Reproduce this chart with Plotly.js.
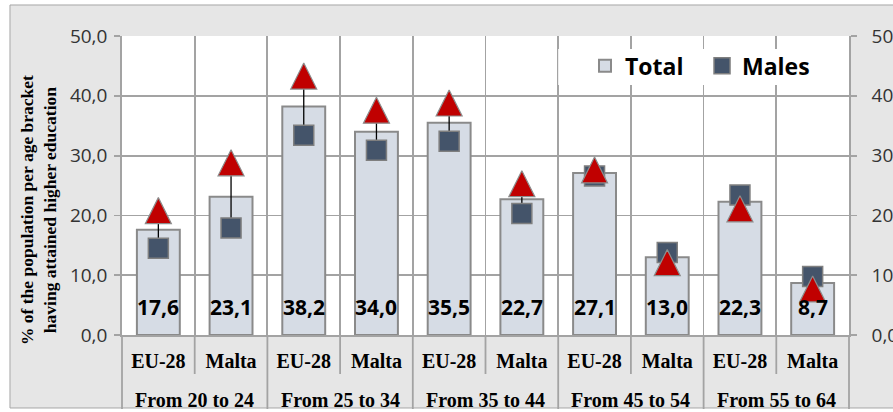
<!DOCTYPE html>
<html><head><meta charset="utf-8">
<script src="https://cdn.plot.ly/plotly-3.0.1.min.js"></script>
<style>html,body{margin:0;padding:0;background:#fff;} #chart{width:893px;height:412px;}</style>
</head><body><div id="chart"></div>
<script>
// ---- data ----
const ageGroups = ["From 20 to 24", "From 25 to 34", "From 35 to 44", "From 45 to 54", "From 55 to 64"];
const areas = ["EU-28", "Malta"];
const totalValues = [17.6, 23.1, 38.2, 34.0, 35.5, 22.7, 27.1, 13.0, 22.3, 8.7];
const maleValues = [14.5, 17.9, 33.4, 30.9, 32.4, 20.3, 26.6, 13.8, 23.4, 9.8];
const femaleValues = [20.8, 28.8, 43.3, 37.6, 38.8, 25.3, 27.6, 12.1, 21.1, 7.7];
const yTickValues = [0, 10, 20, 30, 40, 50];
const yTitle = "% of the population per age bracket<br>having attained higher education";

// ---- build ----
const n = totalValues.length;
const perGroup = areas.length;
const idx = totalValues.map((_, i) => i);
const innerLabels = idx.map(i => areas[i % perGroup]);
const groupOf = idx.map(i => ageGroups[Math.floor(i / perGroup)]);
const hoverText = idx.map(i => groupOf[i] + ' – ' + innerLabels[i]);
const boundaries = [];
for (let i = 0; i <= n; i++) boundaries.push(i - 0.5);

const linkX = [], linkY = [];
for (let i = 0; i < n; i++) { linkX.push(i, i, null); linkY.push(maleValues[i], femaleValues[i], null); }

const gridC = '#a3a3a3';
const fmt = v => v.toFixed(1).replace('.', ',');

const traces = [
  { type: 'bar', name: 'Total', x: idx, y: totalValues, width: 0.59, text: hoverText, hoverinfo: 'text+y',
    textposition: 'none',
    marker: { color: '#d6dce5', line: { color: '#8a8a8a', width: 2 } }, legendwidth: 72 },
  { type: 'scatter', mode: 'lines', x: linkX, y: linkY, connectgaps: false,
    line: { color: '#000000', width: 1.3 }, showlegend: false, hoverinfo: 'skip' },
  { type: 'scatter', mode: 'markers', name: 'Males', x: idx, y: maleValues, text: hoverText,
    marker: { symbol: 'square', size: 20, color: '#44546a', line: { color: '#7f7f7f', width: 1.5 } } },
  { type: 'scatter', mode: 'markers', name: 'Females', x: idx, y: femaleValues, yaxis: 'y2', text: hoverText,
    showlegend: false,
    marker: { symbol: 'arrow-down', angle: 180, standoff: 13, size: 26, color: '#c00000', line: { color: '#8c8c8c', width: 1.2 } } }
];

const labelFont = { family: 'Liberation Serif', size: 20, color: '#000000', weight: 'bold' };

const annotations = totalValues.map((v, i) => ({
  x: i, y: 0, xref: 'x', yref: 'y', text: fmt(v), showarrow: false,
  yanchor: 'bottom', yshift: 12,
  font: { family: 'Open Sans', size: 21, color: '#000000', weight: 'bold' }
}));
ageGroups.forEach((g, k) => annotations.push({
  x: k * perGroup + (perGroup - 1) / 2, xref: 'x', y: -0.2174, yref: 'paper',
  yanchor: 'middle', text: g, showarrow: false, font: labelFont
}));
annotations.push({
  xref: 'paper', yref: 'paper', x: -0.1155, y: 0.418, xanchor: 'center', yanchor: 'middle',
  textangle: -90, showarrow: false, text: yTitle,
  font: { family: 'Liberation Serif', size: 17.5, color: '#000000', weight: 'bold' }
});

// category dividers below the axis: short inside a group, long between groups
const shapes = [
  { type: 'rect', xref: 'paper', yref: 'paper', x0: -0.1541, x1: 1.08, y0: -0.2441, y1: 1.1037,
    fillcolor: '#e6e6e6', line: { color: '#a6a6a6', width: 1 }, layer: 'below' },
  { type: 'rect', xref: 'paper', yref: 'paper', x0: 0, x1: 1, y0: 0, y1: 1,
    fillcolor: '#ffffff', line: { width: 0 }, layer: 'below' },
  { type: 'rect', xref: 'paper', yref: 'paper', x0: 0.6, x1: 0.9986, y0: 0.836, y1: 0.9565,
    fillcolor: '#ffffff', line: { width: 0 }, layer: 'above' }
];
boundaries.forEach((b, i) => {
  const isGroupEdge = i % perGroup === 0;
  shapes.push({ type: 'line', xref: 'paper', yref: 'paper', x0: i / n, x1: i / n, y0: 0,
    y1: isGroupEdge ? -0.2475 : -0.1305, line: { color: gridC, width: 1.8 }, layer: 'above' });
});

const tickFont = { family: 'Open Sans', size: 19, color: '#333333' };

const layout = {
  width: 893, height: 412,
  margin: { l: 122, r: 44, t: 36, b: 77, pad: 0, autoexpand: false },
  paper_bgcolor: '#ffffff', plot_bgcolor: 'rgba(0,0,0,0)',
  separators: ',.',
  barmode: 'overlay',
  showlegend: true,
  legend: { orientation: 'h', x: 0.6369, xanchor: 'left', y: 0.972, yanchor: 'top',
    bgcolor: 'rgba(0,0,0,0)', traceorder: 'normal',
    font: { family: 'Open Sans', size: 23, color: '#000000', weight: 'bold' } },
  xaxis: { type: 'linear', automargin: false, range: [-0.5, n - 0.5], tickmode: 'array', tickvals: idx,
    ticktext: innerLabels, ticks: '', showgrid: false, zeroline: false, ticklabelstandoff: 7,
    showline: true, linecolor: gridC, linewidth: 1.8, tickfont: labelFont,
    minor: { tickmode: 'array', tickvals: boundaries, showgrid: true, gridcolor: gridC, gridwidth: 1.8, ticks: '' } },
  yaxis: { automargin: false, range: [0, 50], tickvals: yTickValues, tickformat: '.1f', ticks: 'outside', ticklen: 6,
    tickcolor: gridC, tickwidth: 1.8, showgrid: true, gridcolor: gridC, gridwidth: 1.8, ticklabelstandoff: 3,
    showline: true, linecolor: gridC, linewidth: 1.8, zeroline: false, tickfont: tickFont },
  yaxis2: { automargin: false, overlaying: 'y', side: 'right', range: [0, 50], tickvals: yTickValues, tickformat: '.1f',
    ticks: 'outside', ticklen: 6, tickcolor: gridC, tickwidth: 1.8, showgrid: false,
    showline: true, linecolor: gridC, linewidth: 1.8, zeroline: false, ticklabelstandoff: 11, tickfont: tickFont },
  shapes: shapes,
  annotations: annotations
};

Plotly.newPlot('chart', traces, layout, { displayModeBar: false, staticPlot: true });
</script>
</body></html>
